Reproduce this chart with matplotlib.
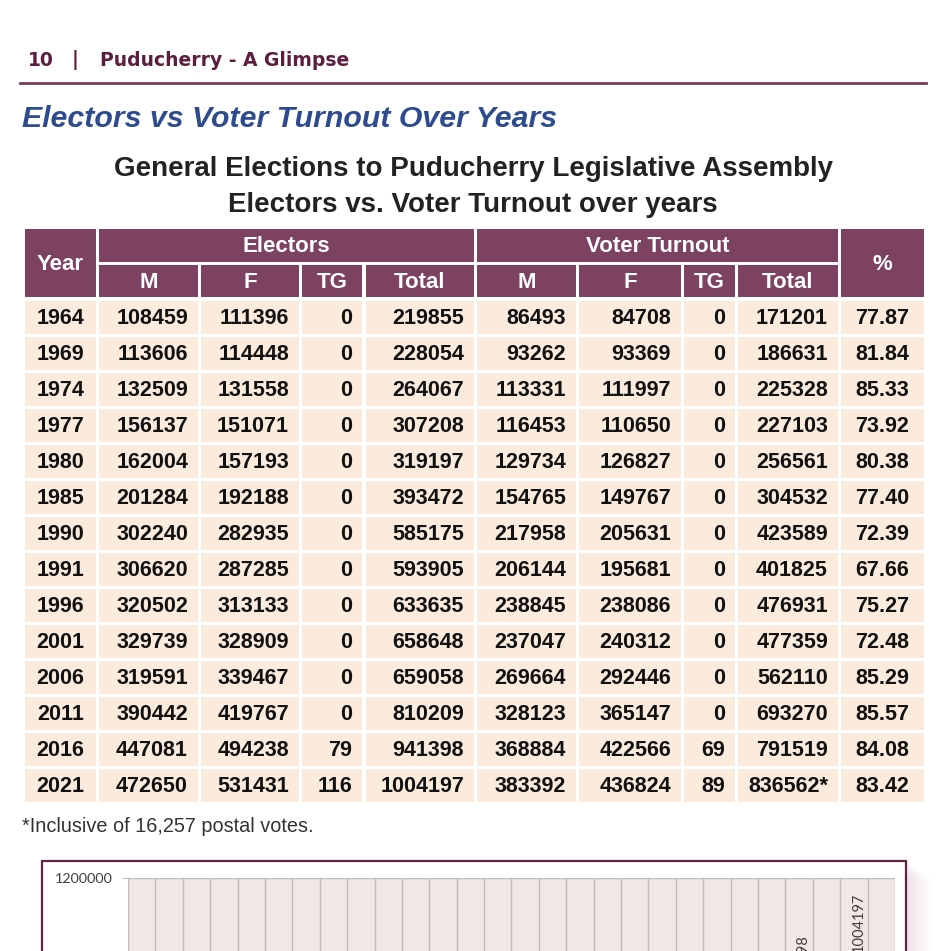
import matplotlib.pyplot as plt
from matplotlib.patches import Rectangle
from matplotlib.transforms import offset_copy

plt.rcParams['font.family'] = ['Liberation Sans', 'DejaVu Sans']

# table data
years = [1964, 1969, 1974, 1977, 1980, 1985, 1990, 1991, 1996, 2001, 2006, 2011, 2016, 2021]
el_m = [108459, 113606, 132509, 156137, 162004, 201284, 302240, 306620, 320502, 329739, 319591, 390442, 447081, 472650]
el_f = [111396, 114448, 131558, 151071, 157193, 192188, 282935, 287285, 313133, 328909, 339467, 419767, 494238, 531431]
el_tg = [0, 0, 0, 0, 0, 0, 0, 0, 0, 0, 0, 0, 79, 116]
el_total = [219855, 228054, 264067, 307208, 319197, 393472, 585175, 593905, 633635, 658648, 659058, 810209, 941398, 1004197]
vt_m = [86493, 93262, 113331, 116453, 129734, 154765, 217958, 206144, 238845, 237047, 269664, 328123, 368884, 383392]
vt_f = [84708, 93369, 111997, 110650, 126827, 149767, 205631, 195681, 238086, 240312, 292446, 365147, 422566, 436824]
vt_tg = [0, 0, 0, 0, 0, 0, 0, 0, 0, 0, 0, 0, 69, 89]
vt_total = [171201, 186631, 225328, 227103, 256561, 304532, 423589, 401825, 476931, 477359, 562110, 693270, 791519, 836562]
pct = ["77.87", "81.84", "85.33", "73.92", "80.38", "77.40", "72.39", "67.66",
       "75.27", "72.48", "85.29", "85.57", "84.08", "83.42"]
sub_headers = ["M", "F", "TG", "Total", "M", "F", "TG", "Total"]

MAROON = "#7D4262"
PEACH = "#FBEBDD"

fig = plt.figure(figsize=(9.51, 9.51), dpi=100)
page = fig.add_axes([0, 0, 1, 1])
page.set_xlim(0, 951)
page.set_ylim(951, 0)
page.axis('off')

# page header
hdr = dict(fontsize=13.5, fontweight='bold', color="#5B1E3E", va='center', family='DejaVu Sans')
page.text(28, 60, "10", ha='left', **hdr)
page.text(75, 60, "|", ha='center', **hdr)
page.text(100, 60, "Puducherry - A Glimpse", ha='left', **hdr)
page.plot([20, 926], [83, 83], color="#7A3C5C", lw=2)

page.text(22, 119, "Electors vs Voter Turnout Over Years", fontsize=21.8, fontweight='bold',
          style='italic', color="#2D4B8E", va='center', ha='left')
page.text(473, 169, "General Elections to Puducherry Legislative Assembly", fontsize=20,
          fontweight='bold', color="#222222", va='center', ha='center')
page.text(473, 205, "Electors vs. Voter Turnout over years", fontsize=20,
          fontweight='bold', color="#222222", va='center', ha='center')

# column edges (px)
col_l = [25, 99, 201, 302, 366, 477, 579, 684, 738, 841]
col_r = [96, 198, 299, 362, 474, 576, 681, 735, 838, 924]


def cell(x0, x1, y0, y1, color):
    page.add_patch(Rectangle((x0, y0), x1 - x0, y1 - y0, facecolor=color, edgecolor='none'))


hfs = 16
cell(col_l[0], col_r[0], 229, 297, MAROON)
page.text((col_l[0] + col_r[0]) / 2, 264, "Year", color='white', fontsize=hfs, fontweight='bold',
          ha='center', va='center')
cell(col_l[1], col_r[4], 229, 262, MAROON)
page.text((col_l[1] + col_r[4]) / 2, 246, "Electors", color='white', fontsize=hfs, fontweight='bold',
          ha='center', va='center')
cell(col_l[5], col_r[8], 229, 262, MAROON)
page.text((col_l[5] + col_r[8]) / 2, 246, "Voter Turnout", color='white', fontsize=hfs,
          fontweight='bold', ha='center', va='center')
cell(col_l[9], col_r[9], 229, 297, MAROON)
page.text((col_l[9] + col_r[9]) / 2, 264, "%", color='white', fontsize=hfs, fontweight='bold',
          ha='center', va='center')
for j, name in enumerate(sub_headers):
    c = j + 1
    cell(col_l[c], col_r[c], 265, 297, MAROON)
    page.text((col_l[c] + col_r[c]) / 2, 282, name, color='white', fontsize=hfs, fontweight='bold',
              ha='center', va='center')

# data rows
dfs = 15.5
for i in range(len(years)):
    y0 = 301 + 36 * i
    yc = y0 + 17
    row = [years[i], el_m[i], el_f[i], el_tg[i], el_total[i], vt_m[i], vt_f[i], vt_tg[i],
           vt_total[i], pct[i]]
    for c, val in enumerate(row):
        cell(col_l[c], col_r[c], y0, y0 + 33, PEACH)
        txt = str(val)
        if c == 8 and i == len(years) - 1:
            txt = txt + "*"
        if c == 0 or c == 9:
            page.text((col_l[c] + col_r[c]) / 2, yc, txt, fontsize=dfs, fontweight='bold',
                      color="#111111", ha='center', va='center')
        else:
            page.text(col_r[c] - 10, yc, txt, fontsize=dfs, fontweight='bold',
                      color="#111111", ha='right', va='center')

page.text(22, 826, "*Inclusive of 16,257 postal votes.", fontsize=14.3, color="#333333",
          ha='left', va='center')

# chart frame with soft pink shadow
for k, a in enumerate([0.06, 0.06, 0.05, 0.05, 0.04, 0.04, 0.03, 0.03, 0.02, 0.02]):
    page.add_patch(Rectangle((42 + 3 * k, 861 + 2 * k), 864, 300,
                             facecolor="#D4A9BC", alpha=a, edgecolor='none'))
page.add_patch(Rectangle((42, 861), 864, 300, facecolor='white', edgecolor="#5E2743", lw=1.6))

# bar chart (only the top shows on the page)
ax = fig.add_axes([128 / 951, (951 - 878 - 640) / 951, (895 - 128) / 951, 640 / 951])
ax.set_facecolor("#F2E6E6")
xs = list(range(len(years)))
ax.bar([x + 0.33 for x in xs], el_total, width=0.3, color=MAROON, zorder=2)
ax.bar([x + 0.67 for x in xs], vt_total, width=0.3, color="#E8A87C", zorder=2)
off = offset_copy(ax.transData, fig=fig, x=0, y=21.6, units='points')
for x, v in zip(xs, el_total):
    ax.text(x + 0.33, v, str(v), rotation=90, ha='center', va='bottom', fontsize=10.5,
            color="#404040", family='Lato', transform=off)
for x, v in zip(xs, vt_total):
    ax.text(x + 0.67, v, str(v), rotation=90, ha='center', va='bottom', fontsize=10.5,
            color="#404040", family='Lato', transform=off)
ax.set_xlim(0, len(years))
ax.set_ylim(0, 1200000)
ax.set_yticks(range(0, 1200001, 200000))
ax.set_yticklabels([str(t) for t in range(0, 1200001, 200000)], fontsize=10.4, color="#404040",
                   family='Lato')
ax.set_xticks([x * 0.5 for x in range(2 * len(years) + 1)])
ax.set_xticklabels([])
ax.grid(True, color="#BDBDBD", lw=1, zorder=0)
ax.set_axisbelow(True)
ax.tick_params(axis='y', length=4, color="#BDBDBD", pad=7)
ax.tick_params(axis='x', length=0)
for s in ax.spines.values():
    s.set_visible(False)

fig.savefig("out.png", dpi=100)
